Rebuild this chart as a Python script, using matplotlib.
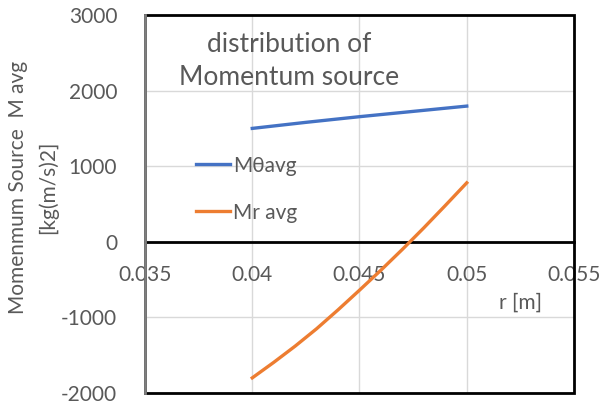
import matplotlib
matplotlib.use("Agg")
import matplotlib.pyplot as plt
from matplotlib.patches import Rectangle

plt.rcParams['font.family'] = ['Lato', 'DejaVu Sans']
plt.rcParams['axes.unicode_minus'] = False

r_theta = [0.04, 0.0425, 0.045, 0.0475, 0.05]
m_theta = [1500, 1580, 1655, 1725, 1795]
r_r = [0.040, 0.041, 0.042, 0.043, 0.044, 0.045, 0.046, 0.047, 0.048, 0.049, 0.050]
m_r = [-1800, -1595, -1380, -1150, -900, -640, -375, -100, 185, 480, 780]
x_ticks = [0.035, 0.04, 0.045, 0.05, 0.055]
x_tick_labels = ['0.035', '0.04', '0.045', '0.05', '0.055']
y_ticks = [-2000, -1000, 0, 1000, 2000, 3000]

TXT = '#595959'
fig = plt.figure(figsize=(6.03, 4.07), dpi=100)
ax = fig.add_axes([145/603, 1-393/407, (574-145)/603, (393-15)/407])

ax.set_xlim(0.035, 0.055)
ax.set_ylim(-2000, 3000)
ax.set_xticks(x_ticks)
ax.set_xticklabels(x_tick_labels)
ax.set_yticks(y_ticks)
ax.grid(True, color='#d9d9d9', lw=1)
ax.set_axisbelow(True)

for s in ['top', 'right', 'left']:
    ax.spines[s].set_visible(False)
ax.spines['bottom'].set_position(('data', 0))
ax.spines['bottom'].set_color('black')
ax.spines['bottom'].set_linewidth(2)
ax.spines['bottom'].set_zorder(3)

ax.add_patch(Rectangle((0, 0), 1, 1, transform=ax.transAxes, fill=False,
                       ec='black', lw=2, clip_on=False, zorder=4))
ax.plot([0, 0], [0, 1], transform=ax.transAxes, color='#7f7f7f', lw=2,
        clip_on=False, zorder=5)

ax.tick_params(axis='both', length=0, labelsize=15, labelcolor=TXT)
ax.tick_params(axis='x', pad=17)
ax.tick_params(axis='y', pad=20)

ax.plot(r_theta, m_theta, color='#4472C4', lw=2.4, label='M\u03b8avg', zorder=6)
ax.plot(r_r, m_r, color='#ED7D31', lw=2.4, label='Mr avg', zorder=6)

leg = ax.legend(loc='upper left', bbox_to_anchor=(0.1, 0.65), frameon=False,
                fontsize=15, labelcolor=TXT, handlelength=1.6, handletextpad=0.15,
                labelspacing=1.3, borderaxespad=0)

ax.text(0.335, 0.955, 'distribution of\nMomentum source', transform=ax.transAxes,
        ha='center', va='top', fontsize=19, color=TXT, linespacing=1.4)
ax.text(0.875, 0.24, 'r [m]', transform=ax.transAxes, ha='center', va='center',
        fontsize=15, color=TXT)

fig.text(18/603, 1-187/407, 'Momenmum Source  M avg', rotation=90, ha='center',
         va='center', fontsize=15, color=TXT)
fig.text(48/603, 1-187/407, '[kg(m/s)2]', rotation=90, ha='center',
         va='center', fontsize=15, color=TXT)

fig.savefig('out.png', dpi=100)
